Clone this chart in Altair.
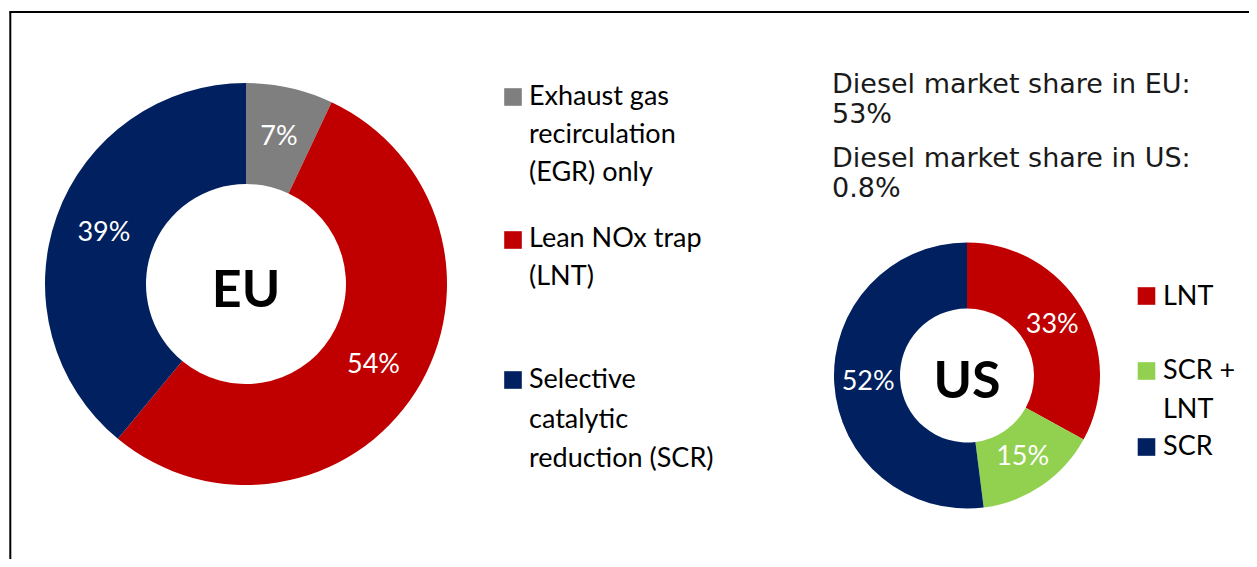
import altair as alt
import pandas as pd

# ---- data ----
eu_keys = ["EGR", "LNT", "SCR"]
eu_shares = [7, 54, 39]
us_keys = ["LNT", "SCR+LNT", "SCR"]
us_shares = [33, 15, 52]

color_domain = ["EGR", "LNT", "SCR", "SCR+LNT"]
color_range = ["#7F7F7F", "#C00000", "#002060", "#92D050"]

eu_legend_keys = ["EGR", "LNT", "SCR"]
eu_legend_labels = [
    "Exhaust gas\nrecirculation\n(EGR) only",
    "Lean NOx trap\n(LNT)",
    "Selective\ncatalytic\nreduction (SCR)",
]
us_legend_keys = ["LNT", "SCR+LNT", "SCR"]
us_legend_labels = ["LNT", "SCR +\nLNT", "SCR"]

diesel_notes = [
    "Diesel market share in EU:\n53%",
    "Diesel market share in US:\n0.8%",
]
center_titles = ["EU", "US"]

# ---- layout ----
W, H = 1241, 551
OFF = 8


def P(v):
    return v - OFF


color_scale = alt.Scale(domain=color_domain, range=color_range)


def donut(keys, shares, cx, cy, r_out, r_in, r_lab, title, title_size, title_base):
    df = pd.DataFrame({"key": keys, "share": shares, "idx": list(range(len(keys)))})
    df["label"] = df["share"].astype(str) + "%"
    base = alt.Chart(df).encode(
        theta=alt.Theta("share:Q", stack=True),
        order=alt.Order("idx:Q"),
        x=alt.value(P(cx)),
        y=alt.value(P(cy)),
    )
    arc = base.mark_arc(radius=r_out, radius2=r_in, strokeWidth=0).encode(
        color=alt.Color("key:N", scale=color_scale, legend=None)
    )
    txt = base.mark_text(
        radius=r_lab, font="Lato", fontSize=27, color="white", align="center", baseline="middle"
    ).encode(text="label:N")
    ttl = alt.Chart(pd.DataFrame({"t": [title]})).mark_text(
        font="Lato", fontWeight="bold", fontSize=title_size, color="black",
        align="center", baseline="alphabetic"
    ).encode(text="t:N", x=alt.value(P(cx)), y=alt.value(P(title_base)))
    return [arc, txt, ttl]


def legend_entry(key, label, sq_x, sq_y, tx, ty, lh):
    sq = alt.Chart(pd.DataFrame({"key": [key]})).mark_square(size=310, opacity=1, filled=True).encode(
        color=alt.Color("key:N", scale=color_scale, legend=None),
        x=alt.value(P(sq_x)), y=alt.value(P(sq_y)),
    )
    tt = alt.Chart(pd.DataFrame({"t": [label]})).mark_text(
        font="Lato", fontSize=27, color="black", align="left", baseline="alphabetic",
        lineBreak="\n", lineHeight=lh
    ).encode(text="t:N", x=alt.value(P(tx)), y=alt.value(P(ty)))
    return [sq, tt]


layers = []
layers += donut(eu_keys, eu_shares, 246, 284, 201, 100, 151, center_titles[0], 52, 307)
layers += donut(us_keys, us_shares, 967, 375.5, 133, 67, 99, center_titles[1], 52, 398)

eu_leg_pos = [(97, 105, 38), (240, 247, 38), (380, 388, 39.5)]
for k, lab, (sy, ty, lh) in zip(eu_legend_keys, eu_legend_labels, eu_leg_pos):
    layers += legend_entry(k, lab, 513, sy, 529, ty, lh)

us_leg_pos = [(296, 305, 39), (371, 379, 39), (447, 455, 39)]
for k, lab, (sy, ty, lh) in zip(us_legend_keys, us_legend_labels, us_leg_pos):
    layers += legend_entry(k, lab, 1146.5, sy, 1163, ty, lh)

for note, by in zip(diesel_notes, [93, 167]):
    layers.append(
        alt.Chart(pd.DataFrame({"t": [note]})).mark_text(
            font="DejaVu Sans", fontSize=27, color="#1a1a1a", align="left",
            baseline="alphabetic", lineBreak="\n", lineHeight=30
        ).encode(text="t:N", x=alt.value(P(832)), y=alt.value(P(by)))
    )

frame_df = pd.DataFrame({"a": [0]})
layers.append(
    alt.Chart(frame_df).mark_rule(color="black", strokeWidth=2).encode(
        x=alt.value(P(10.3)), y=alt.value(P(12)), y2=alt.value(H + 10)
    )
)
layers.append(
    alt.Chart(frame_df).mark_rule(color="black", strokeWidth=2).encode(
        x=alt.value(P(9.3)), x2=alt.value(W + 10), y=alt.value(P(12))
    )
)

chart = alt.layer(*layers).properties(
    width=W, height=H,
    autosize=alt.AutoSizeParams(type="none"),
    padding=0,
    background="white",
).configure_view(stroke=None)

chart.save("out.html", embed_options={"renderer": "svg", "actions": False})
